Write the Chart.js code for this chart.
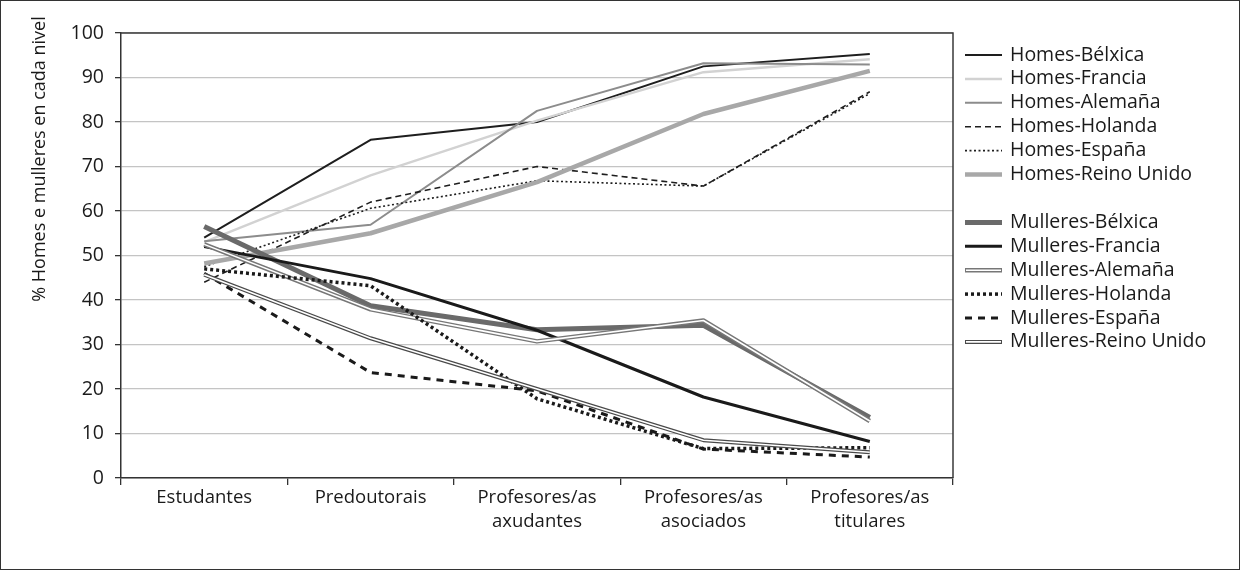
<!DOCTYPE html>
<html>
<head>
<meta charset="utf-8">
<script src="https://cdn.jsdelivr.net/npm/chart.js@4"></script>
<style>
  html, body { margin: 0; padding: 0; background: #fff; }
  #wrap { width: 1240px; height: 570px; box-sizing: border-box; border: 1px solid #333; }
  canvas { display: block; }
</style>
</head>
<body>
<div id="wrap"><canvas id="chart" width="1238" height="568"></canvas></div>
<script>
// categories and tick labels
const categories = ["Estudantes", "Predoutorais", ["Profesores/as", "axudantes"], ["Profesores/as", "asociados"], ["Profesores/as", "titulares"]];
const yTicks = [0, 10, 20, 30, 40, 50, 60, 70, 80, 90, 100];
const yTitle = "% Homes e mulleres en cada nivel";

// series values (% in each level)
const homesBelxica = [54, 76, 80, 92.5, 95.3];
const homesFrancia = [53, 68, 80.3, 91.2, 94.1];
const homesAlemana = [53.2, 56.9, 82.5, 93.2, 92.9];
const homesHolanda = [44, 62, 70, 65.6, 86.8];
const homesEspana = [47.5, 60.6, 66.8, 65.6, 86.4];
const homesReinoUnido = [48.2, 55, 66.5, 81.8, 91.5];
const mulleresBelxica = [56.5, 38.7, 33.3, 34.3, 13.6];
const mulleresFrancia = [52, 44.8, 33.2, 18.2, 8.2];
const mulleresAlemana = [52.5, 37.9, 30.7, 35.4, 12.8];
const mulleresHolanda = [47, 43.2, 17.8, 6.6, 6.8];
const mulleresEspana = [46, 23.7, 19.6, 6.5, 4.7];
const mulleresReinoUnido = [45.7, 31.4, 20, 8.5, 5.8];

const series = [
  { label: "Homes-Bélxica", data: homesBelxica, color: "#1e1e1e", width: 2 },
  { label: "Homes-Francia", data: homesFrancia, color: "#d2d2d2", width: 2.5 },
  { label: "Homes-Alemaña", data: homesAlemana, color: "#8c8c8c", width: 2 },
  { label: "Homes-Holanda", data: homesHolanda, color: "#1e1e1e", width: 1.6, dash: [6, 4] },
  { label: "Homes-España", data: homesEspana, color: "#1e1e1e", width: 1.6, dash: [2, 2.5] },
  { label: "Homes-Reino Unido", data: homesReinoUnido, color: "#a8a8a8", width: 4.5 },
  { label: "Mulleres-Bélxica", data: mulleresBelxica, color: "#6a6a6a", width: 5 },
  { label: "Mulleres-Francia", data: mulleresFrancia, color: "#1a1a1a", width: 3 },
  { label: "Mulleres-Alemaña", data: mulleresAlemana, color: "#777777", width: 4.5, double: true },
  { label: "Mulleres-Holanda", data: mulleresHolanda, color: "#1a1a1a", width: 3.5, dash: [3, 3] },
  { label: "Mulleres-España", data: mulleresEspana, color: "#1a1a1a", width: 3, dash: [7, 6] },
  { label: "Mulleres-Reino Unido", data: mulleresReinoUnido, color: "#4a4a4a", width: 4, double: true },
];

const FONT = "'Open Sans', 'Liberation Sans', Arial, sans-serif";
const FSIZE = 19.5;

// build datasets; later series drawn on top, double lines get a white core
const datasets = [];
series.forEach((s, i) => {
  datasets.push({
    label: s.label,
    data: s.data,
    borderColor: s.color,
    borderWidth: s.width,
    borderDash: s.dash || [],
    borderCapStyle: "butt",
    borderJoinStyle: "round",
    pointRadius: 0,
    tension: 0,
    fill: false,
    order: 100 - i * 2,
  });
  if (s.double) {
    datasets.push({
      label: s.label + " core",
      data: s.data,
      borderColor: "#ffffff",
      borderWidth: 1.6,
      borderJoinStyle: "round",
      pointRadius: 0,
      tension: 0,
      fill: false,
      order: 100 - i * 2 - 1,
    });
  }
});

// plot frame (top and right), y title and legend
const extras = {
  id: "extras",
  afterDraw(chart) {
    const { ctx, chartArea: a } = chart;
    ctx.save();
    ctx.strokeStyle = "#3a3a3a";
    ctx.lineWidth = 1.5;
    ctx.beginPath();
    ctx.moveTo(a.left, a.top);
    ctx.lineTo(a.right, a.top);
    ctx.lineTo(a.right, a.bottom);
    ctx.stroke();

    ctx.fillStyle = "#1a1a1a";
    ctx.textAlign = "center";
    ctx.textBaseline = "middle";
    ctx.font = "18px " + FONT;
    ctx.save();
    ctx.translate(39, 158);
    ctx.rotate(-Math.PI / 2);
    ctx.fillText(yTitle, 0, 0);
    ctx.restore();

    const x0 = 964, x1 = 1001, tx = 1009;
    let y = 54;
    ctx.font = FSIZE + "px " + FONT;
    ctx.textAlign = "left";
    series.forEach((s, i) => {
      if (i === 6) y += 24;
      ctx.setLineDash(s.dash || []);
      ctx.lineCap = "butt";
      ctx.strokeStyle = s.color;
      ctx.lineWidth = s.width;
      ctx.beginPath();
      ctx.moveTo(x0, y);
      ctx.lineTo(x1, y);
      ctx.stroke();
      if (s.double) {
        ctx.strokeStyle = "#fff";
        ctx.lineWidth = 1.6;
        ctx.beginPath();
        ctx.moveTo(x0 + 1, y);
        ctx.lineTo(x1 - 1, y);
        ctx.stroke();
      }
      ctx.setLineDash([]);
      ctx.fillText(s.label, tx, y);
      y += 23.9;
    });
    ctx.restore();
  },
};

new Chart(document.getElementById("chart"), {
  type: "line",
  data: { labels: categories, datasets },
  plugins: [extras],
  options: {
    responsive: false,
    animation: false,
    layout: { padding: { left: 0, right: 286, top: 32, bottom: 0 } },
    plugins: { legend: { display: false }, tooltip: { enabled: false } },
    scales: {
      x: {
        offset: true,
        grid: {
          offset: true,
          drawOnChartArea: false,
          drawTicks: true,
          tickLength: 7,
          tickColor: "#333",
          lineWidth: 1.3,
        },
        border: { display: true, color: "#333", width: 1.5 },
        ticks: {
          color: "#1a1a1a",
          font: { family: FONT, size: 18.5, lineHeight: 1.3 },
          maxRotation: 0,
          autoSkip: false,
          padding: 1,
        },
        afterFit(s) { s.height = 91; },
      },
      y: {
        min: 0,
        max: 100,
        afterBuildTicks(s) { s.ticks = yTicks.map((v) => ({ value: v })); },
        grid: {
          color: "#c4c4c4",
          lineWidth: 1.3,
          drawTicks: true,
          tickLength: 6,
          tickColor: "#333",
        },
        border: { display: true, color: "#333", width: 1.5 },
        ticks: {
          color: "#1a1a1a",
          font: { family: FONT, size: FSIZE },
          padding: 11,
        },
        afterFit(s) { s.width = 120; },
      },
    },
  },
});
</script>
</body>
</html>
